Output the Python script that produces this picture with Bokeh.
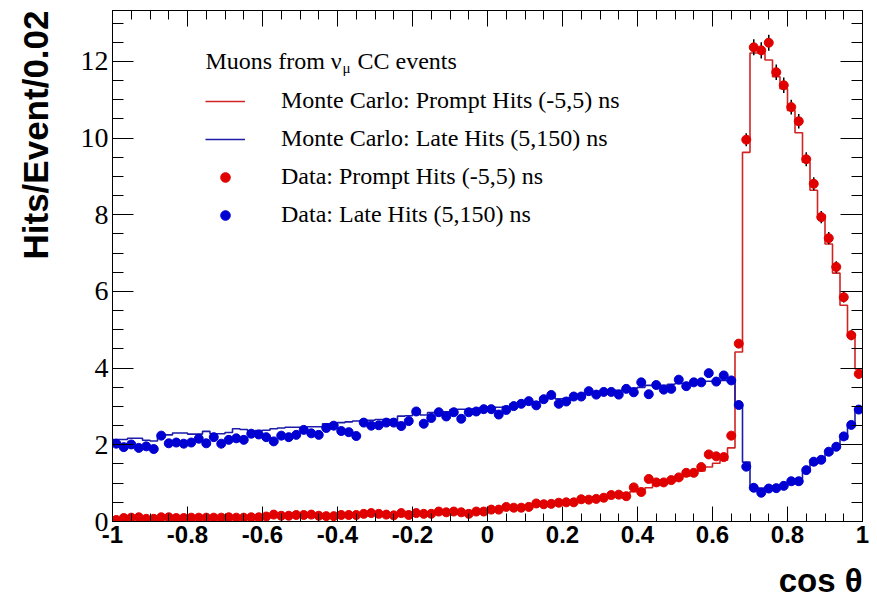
import numpy as np
from bokeh.plotting import figure
from bokeh.models import (FixedTicker, LinearAxis, Label, Legend, LegendItem, Range1d, Title)
from bokeh.embed import file_html
from bokeh.resources import INLINE

# ---------------- data ----------------
n_bins = 100
x_lo, x_hi = -1.0, 1.0
y_lo, y_hi = 0.0, 13.33

mc_prompt = [0.05, 0.06, 0.06, 0.07, 0.07, 0.07, 0.07, 0.08, 0.08, 0.08,
             0.09, 0.09, 0.09, 0.10, 0.10, 0.10, 0.11, 0.11, 0.11, 0.12,
             0.12, 0.13, 0.13, 0.13, 0.14, 0.14, 0.15, 0.15, 0.15, 0.16,
             0.16, 0.17, 0.17, 0.18, 0.18, 0.19, 0.19, 0.20, 0.20, 0.21,
             0.21, 0.22, 0.23, 0.23, 0.24, 0.25, 0.26, 0.27, 0.28, 0.29,
             0.31, 0.32, 0.33, 0.35, 0.37, 0.39, 0.41, 0.43, 0.45, 0.47,
             0.49, 0.51, 0.54, 0.57, 0.59, 0.62, 0.66, 0.70, 0.74, 0.78,
             0.82, 0.88, 0.94, 0.99, 1.04, 1.10, 1.18, 1.24, 1.32, 1.42,
             1.52, 1.60, 1.92, 4.42, 9.63, 12.22, 12.22, 12.04, 11.60, 11.29,
             10.72, 10.14, 9.37, 8.64, 8.00, 7.24, 6.48, 5.64, 4.90, 3.98]

mc_late = [2.14, 2.14, 2.17, 2.17, 2.12, 2.10, 2.26, 2.26, 2.31, 2.31,
           2.28, 2.28, 2.35, 2.29, 2.29, 2.32, 2.42, 2.40, 2.36, 2.37,
           2.38, 2.42, 2.44, 2.46, 2.46, 2.46, 2.47, 2.47, 2.55, 2.56,
           2.58, 2.60, 2.62, 2.64, 2.64, 2.66, 2.66, 2.66, 2.75, 2.76,
           2.86, 2.78, 2.84, 2.86, 2.86, 2.92, 2.93, 2.93, 2.94, 2.97,
           2.98, 2.98, 3.00, 3.07, 3.08, 3.11, 3.12, 3.24, 3.26, 3.20,
           3.21, 3.22, 3.24, 3.33, 3.38, 3.40, 3.42, 3.42, 3.48, 3.48,
           3.50, 3.55, 3.55, 3.55, 3.58, 3.60, 3.60, 3.62, 3.64, 3.66,
           3.65, 3.68, 3.68, 3.03, 1.55, 0.89, 0.87, 0.87, 0.88, 0.92,
           0.97, 1.12, 1.30, 1.50, 1.62, 1.76, 1.92, 2.15, 2.50, 2.95]

data_prompt = [0.04, 0.09, 0.10, 0.11, 0.07, 0.07, 0.11, 0.11, 0.09, 0.09,
               0.10, 0.10, 0.10, 0.10, 0.10, 0.11, 0.10, 0.10, 0.11, 0.11,
               0.13, 0.18, 0.15, 0.15, 0.17, 0.17, 0.18, 0.15, 0.14, 0.14,
               0.17, 0.17, 0.17, 0.20, 0.22, 0.20, 0.18, 0.16, 0.22, 0.17,
               0.22, 0.20, 0.20, 0.26, 0.24, 0.26, 0.24, 0.20, 0.26, 0.26,
               0.31, 0.31, 0.38, 0.36, 0.36, 0.38, 0.47, 0.45, 0.46, 0.49,
               0.50, 0.50, 0.58, 0.57, 0.59, 0.62, 0.69, 0.70, 0.66, 0.89,
               0.77, 1.11, 1.02, 1.02, 1.08, 1.15, 1.27, 1.27, 1.42, 1.75,
               1.70, 1.68, 2.24, 4.64, 9.96, 12.37, 12.29, 12.49, 11.72, 11.38,
               10.81, 10.44, 9.45, 8.81, 7.94, 7.39, 6.64, 5.85, 4.86, 3.85]

data_late = [2.03, 1.94, 2.01, 1.92, 1.96, 1.89, 2.24, 2.04, 2.06, 2.03,
             2.06, 2.16, 2.04, 2.20, 2.03, 2.13, 2.17, 2.13, 2.29, 2.27,
             2.20, 2.09, 2.24, 2.20, 2.26, 2.39, 2.30, 2.26, 2.44, 2.50,
             2.36, 2.33, 2.23, 2.58, 2.50, 2.51, 2.58, 2.58, 2.49, 2.62,
             2.87, 2.55, 2.70, 2.85, 2.74, 2.85, 2.68, 2.85, 2.87, 2.93,
             2.93, 2.79, 2.91, 3.01, 3.07, 3.14, 3.03, 3.19, 3.30, 3.07,
             3.13, 3.26, 3.26, 3.40, 3.31, 3.38, 3.38, 3.31, 3.46, 3.37,
             3.63, 3.32, 3.56, 3.44, 3.46, 3.70, 3.53, 3.63, 3.63, 3.87,
             3.65, 3.81, 3.68, 3.04, 1.43, 0.88, 0.75, 0.86, 0.87, 0.93,
             1.05, 1.05, 1.34, 1.56, 1.61, 1.82, 1.95, 2.22, 2.52, 2.92]

# statistical errors of the prompt data in the peak (bins 83..99)
peak_first_bin = 83
prompt_err_peak = [0.10, 0.17, 0.21, 0.21, 0.21, 0.20, 0.20, 0.19, 0.19,
                   0.18, 0.17, 0.16, 0.16, 0.15, 0.14, 0.13, 0.12]

x_ticks = [-1.0, -0.8, -0.6, -0.4, -0.2, 0.0, 0.2, 0.4, 0.6, 0.8, 1.0]
x_tick_labels = ["-1", "-0.8", "-0.6", "-0.4", "-0.2", "0", "0.2", "0.4", "0.6", "0.8", "1"]
y_ticks = [0, 2, 4, 6, 8, 10, 12]
y_tick_labels = ["0", "2", "4", "6", "8", "10", "12"]

legend_title = "Muons from ν"
legend_title_sub = "μ"
legend_title_rest = "CC events"
legend_labels = ["Monte Carlo: Prompt Hits (-5,5) ns",
                 "Monte Carlo: Late Hits (5,150) ns",
                 "Data: Prompt Hits (-5,5) ns",
                 "Data: Late Hits (5,150) ns"]
y_title = "Hits/Event/0.02"
x_title = "cos θ"

# ---------------- derived binning ----------------
edges = np.linspace(x_lo, x_hi, n_bins + 1)
centers = 0.5 * (edges[:-1] + edges[1:])

RED_LINE = "#d02424"
BLUE_LINE = "#1c1ca8"
RED_PT = "#e00000"
BLUE_PT = "#0000d2"

p = figure(width=877, height=600, x_range=Range1d(x_lo, x_hi), y_range=Range1d(y_lo, y_hi),
           output_backend="svg", toolbar_location=None,
           min_border_left=112, min_border_right=15, min_border_top=10, min_border_bottom=79,
           background_fill_color="white", border_fill_color="white",
           outline_line_color="black", outline_line_width=1)
p.xgrid.visible = False
p.ygrid.visible = False

x_minor = list(np.round(np.arange(-1.0, 1.0001, 0.05), 3))
y_minor = list(np.round(np.arange(0.0, 13.3, 0.5), 2))

def style_common(ax, tin, tmin):
    ax.axis_line_color = "black"
    ax.major_tick_line_color = "black"
    ax.minor_tick_line_color = "black"
    ax.major_tick_in = tin
    ax.major_tick_out = 0
    ax.minor_tick_in = tmin
    ax.minor_tick_out = 0

def hide_labels(ax):
    ax.major_label_text_font_size = "1px"
    ax.major_label_text_color = None
    ax.major_label_standoff = 0

def style_x(ax, tin, tmin, labels):
    ax.ticker = FixedTicker(ticks=x_ticks, minor_ticks=x_minor)
    style_common(ax, tin, tmin)
    if labels:
        ax.major_label_overrides = {t: s for t, s in zip(x_ticks, x_tick_labels)}
        ax.major_label_text_font = "Liberation Sans"
        ax.major_label_text_font_style = "bold"
        ax.major_label_text_font_size = "24px"
        ax.major_label_text_color = "black"
        ax.major_label_standoff = 4
    else:
        hide_labels(ax)

def style_y(ax, tin, tmin, labels):
    ax.ticker = FixedTicker(ticks=y_ticks, minor_ticks=y_minor)
    style_common(ax, tin, tmin)
    if labels:
        ax.major_label_overrides = {t: s for t, s in zip(y_ticks, y_tick_labels)}
        ax.major_label_text_font = "Liberation Serif"
        ax.major_label_text_font_size = "28px"
        ax.major_label_text_color = "black"
        ax.major_label_standoff = 4
    else:
        hide_labels(ax)

def spacer_axis(size):
    # a white, label-less axis that only reserves `size` pixels between an axis and its title
    ax = LinearAxis(ticker=FixedTicker(ticks=[0], minor_ticks=[]))
    ax.axis_line_color = None
    ax.major_tick_line_color = "white"
    ax.minor_tick_line_color = None
    ax.major_tick_in = 0
    ax.major_tick_out = size
    ax.minor_tick_in = 0
    ax.minor_tick_out = 0
    hide_labels(ax)
    return ax

style_x(p.xaxis[0], 15, 8, True)
style_y(p.yaxis[0], 21, 11, True)
top_ax = LinearAxis()
style_x(top_ax, 16, 9, False)
p.add_layout(top_ax, "above")
right_ax = LinearAxis()
style_y(right_ax, 22, 11, False)
p.add_layout(right_ax, "right")

# spacers, then axis titles aligned to the far end like the reference
p.add_layout(spacer_axis(23), "left")
p.add_layout(spacer_axis(14), "below")
p.add_layout(Title(text=y_title, align="right", text_font="Liberation Sans",
                   text_font_style="bold", text_font_size="35px", text_color="black",
                   standoff=0, offset=0), "left")
p.add_layout(Title(text=x_title, align="right", text_font="Liberation Sans",
                   text_font_style="bold", text_font_size="33px", text_color="black",
                   standoff=0, offset=0), "below")

# MC histograms (steps over bin edges)
r_mc_prompt = p.step(x=edges, y=mc_prompt + [mc_prompt[-1]], mode="after",
                     line_color=RED_LINE, line_width=1.6)
r_mc_late = p.step(x=edges, y=mc_late + [mc_late[-1]], mode="after",
                   line_color=BLUE_LINE, line_width=1.6)

# error bars on prompt data in the peak
pk = centers[peak_first_bin:peak_first_bin + len(prompt_err_peak)]
pv = np.array(data_prompt[peak_first_bin:peak_first_bin + len(prompt_err_peak)])
pe = np.array(prompt_err_peak)
p.segment(x0=pk, y0=pv - pe, x1=pk, y1=pv + pe, line_color="black", line_width=1.5)

r_d_late = p.scatter(x=centers, y=data_late, marker="circle", size=9,
                     fill_color=BLUE_PT, line_color=BLUE_PT)
r_d_prompt = p.scatter(x=centers, y=data_prompt, marker="circle", size=9,
                       fill_color=RED_PT, line_color=RED_PT)

legend = Legend(items=[LegendItem(label=legend_labels[0], renderers=[r_mc_prompt]),
                       LegendItem(label=legend_labels[1], renderers=[r_mc_late]),
                       LegendItem(label=legend_labels[2], renderers=[r_d_prompt]),
                       LegendItem(label=legend_labels[3], renderers=[r_d_late])],
                location=(93, 293), orientation="vertical",
                border_line_color=None, background_fill_alpha=0,
                padding=0, margin=0, spacing=11,
                glyph_width=40, glyph_height=24, label_height=24, label_standoff=36,
                label_text_font="Liberation Serif", label_text_font_size="24px",
                label_text_color="black")
p.add_layout(legend)

# legend title with subscript (frame-relative screen coordinates)
FL, FB = 112, 521
p.add_layout(Label(x=205 - FL, y=FB - 60, x_units="screen", y_units="screen",
                   text=legend_title, text_font="Liberation Serif", text_font_size="24px",
                   text_baseline="middle", text_align="left", text_color="black"))
p.add_layout(Label(x=342 - FL, y=FB - 67, x_units="screen", y_units="screen",
                   text=legend_title_sub, text_font="Liberation Serif", text_font_size="15px",
                   text_baseline="middle", text_align="left", text_color="black"))
p.add_layout(Label(x=357 - FL, y=FB - 60, x_units="screen", y_units="screen",
                   text=legend_title_rest, text_font="Liberation Serif", text_font_size="24px",
                   text_baseline="middle", text_align="left", text_color="black"))

open("out.html", "w").write(file_html(p, INLINE))
